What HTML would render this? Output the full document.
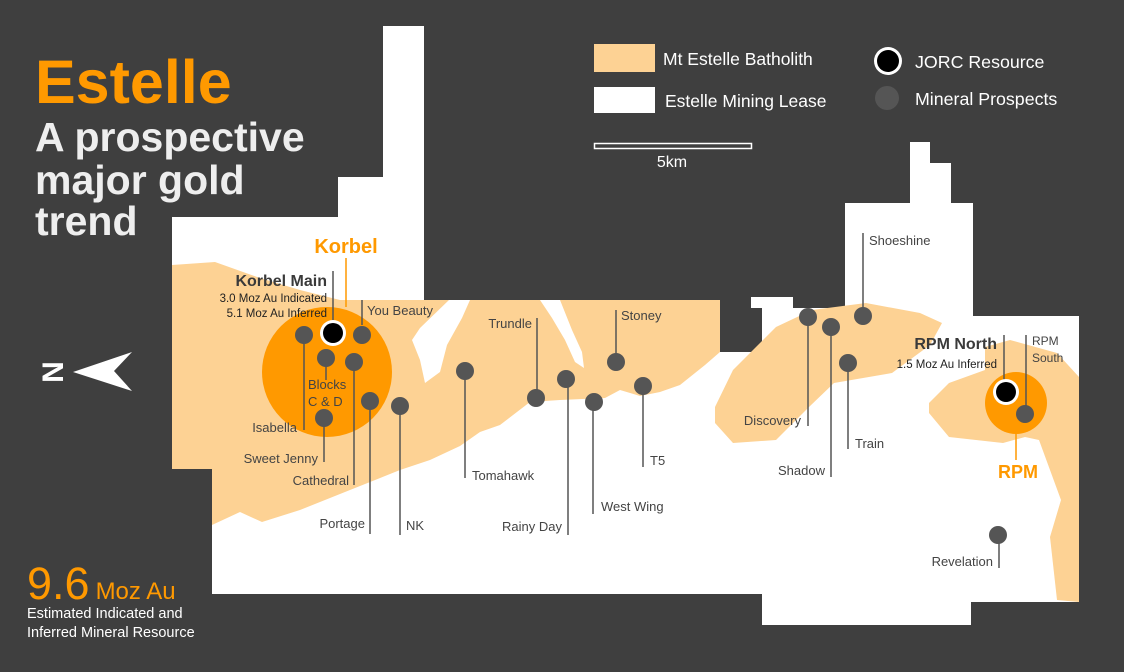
<!DOCTYPE html>
<html><head><meta charset="utf-8"><style>
html,body{margin:0;padding:0;background:#3f3f3f;}
svg{display:block;}
text{font-family:"Liberation Sans",Arial,sans-serif;}
</style></head><body>
<svg width="1124" height="672" viewBox="0 0 1124 672" xmlns="http://www.w3.org/2000/svg">
<rect width="1124" height="672" fill="#3f3f3f"/>
<path fill="#fff" d="M383,26 L424,26 L424,300 L720,300 L720,352 L762,352 L762,308 L751,308 L751,297 L793,297 L793,308 L845,308 L845,203 L910,203 L910,142 L930,142 L930,163 L951,163 L951,203 L973,203 L973,316 L1079,316 L1079,602 L971,602 L971,625 L762,625 L762,594 L212,594 L212,469 L172,469 L172,217 L338,217 L338,177 L383,177 Z"/>
<g fill="#fdd294">
<path d="M172,265 L215,262 L260,278 L300,290 L340,300 L720,300 L720,352 L705,365 L680,385 L660,392 L640,396 L620,390 L605,398 L560,400 L530,402 L500,425 L480,432 L460,446 L430,460 L400,470 L350,490 L300,510 L262,522 L240,512 L212,525 L212,469 L172,469 Z"/>
<path d="M715,407 L733,370 L776,327 L812,310 L866,303 L920,313 L942,323 L930,345 L892,373 L834,383 L809,407 L776,440 L733,443 L715,423 Z"/>
<path d="M929,403 L949,383 L985,370 L985,347 L1010,340 L1057,353 L1079,377 L1079,602 L1057,600 L1050,537 L1061,500 L1039,440 L1025,437 L1003,443 L949,437 L929,413 Z"/>
</g>
<g fill="#fff">
<path d="M449,300 L420,328 L412,340 L420,360 L425,383 L440,372 L447,345 L462,318 L470,300 Z"/>
<path d="M540,300 L552,318 L565,340 L575,362 L584,368 L582,352 L572,330 L560,300 Z"/>
</g>
<circle cx="327" cy="372" r="65" fill="#ff9900"/>
<circle cx="1016" cy="403" r="31" fill="#ff9900"/>
<g stroke="#555" stroke-width="1.5" fill="none">
<path d="M333,271V323 M362,300V325 M304,335V430 M326,358V380 M354,362V485 M324,418V462 M370,401V534 M400,406V535 M465,371V478 M537,318V398 M568,379V535 M593,402V514 M616,310V362 M643,386V467 M808,317V426 M831,327V477 M863,233V316 M848,363V449 M1004,335V392 M1026,335V414 M999,535V568"/>
</g>
<g stroke="#ff9900" stroke-width="1.5"><path d="M346,258V307 M1016,433V460"/></g>
<g fill="#555">
<circle cx="304" cy="335" r="9"/><circle cx="362" cy="335" r="9"/><circle cx="326" cy="358" r="9"/><circle cx="354" cy="362" r="9"/>
<circle cx="370" cy="401" r="9"/><circle cx="400" cy="406" r="9"/><circle cx="324" cy="418" r="9"/><circle cx="465" cy="371" r="9"/>
<circle cx="536" cy="398" r="9"/><circle cx="566" cy="379" r="9"/><circle cx="594" cy="402" r="9"/><circle cx="616" cy="362" r="9"/>
<circle cx="643" cy="386" r="9"/><circle cx="808" cy="317" r="9"/><circle cx="831" cy="327" r="9"/><circle cx="863" cy="316" r="9"/>
<circle cx="848" cy="363" r="9"/><circle cx="1025" cy="414" r="9"/><circle cx="998" cy="535" r="9"/>
</g>
<circle cx="333" cy="333" r="13" fill="#fff"/><circle cx="333" cy="333" r="10" fill="#000"/>
<circle cx="1006" cy="392" r="13" fill="#fff"/><circle cx="1006" cy="392" r="10" fill="#000"/>
<g fill="#444" font-size="13">
<text x="367" y="315">You Beauty</text>
<text x="297" y="432" text-anchor="end">Isabella</text>
<text x="308" y="389">Blocks</text>
<text x="308" y="406">C &amp; D</text>
<text x="318" y="463" text-anchor="end">Sweet Jenny</text>
<text x="349" y="485" text-anchor="end">Cathedral</text>
<text x="365" y="528" text-anchor="end">Portage</text>
<text x="406" y="530">NK</text>
<text x="472" y="480">Tomahawk</text>
<text x="532" y="328" text-anchor="end">Trundle</text>
<text x="562" y="531" text-anchor="end">Rainy Day</text>
<text x="601" y="511">West Wing</text>
<text x="621" y="320">Stoney</text>
<text x="650" y="465">T5</text>
<text x="801" y="425" text-anchor="end">Discovery</text>
<text x="825" y="475" text-anchor="end">Shadow</text>
<text x="855" y="448">Train</text>
<text x="869" y="245">Shoeshine</text>
<text x="993" y="566" text-anchor="end">Revelation</text>
<text x="1032" y="345" font-size="12">RPM</text>
<text x="1032" y="362" font-size="12">South</text>
</g>
<g fill="#3a3a3a">
<text x="327" y="286" text-anchor="end" font-size="16" font-weight="bold">Korbel Main</text>
<text x="327" y="302" text-anchor="end" font-size="11.5" fill="#222">3.0 Moz Au Indicated</text>
<text x="327" y="317" text-anchor="end" font-size="11.5" fill="#222">5.1 Moz Au Inferred</text>
<text x="997" y="349" text-anchor="end" font-size="16" font-weight="bold">RPM North</text>
<text x="997" y="368" text-anchor="end" font-size="11.5" fill="#222">1.5 Moz Au Inferred</text>
</g>
<text x="346" y="253" text-anchor="middle" font-size="20" font-weight="bold" fill="#ff9900">Korbel</text>
<text x="1018" y="478" text-anchor="middle" font-size="18" font-weight="bold" fill="#ff9900">RPM</text>
<text x="35" y="103" font-size="61" font-weight="bold" fill="#ff9900">Estelle</text>
<g fill="#eee" font-size="41" font-weight="bold">
<text x="35" y="151">A prospective</text>
<text x="35" y="194">major gold</text>
<text x="35" y="235">trend</text>
</g>
<text x="27" y="599" fill="#ff9900"><tspan font-size="45">9.6</tspan><tspan font-size="24" dx="6">Moz Au</tspan></text>
<text x="27" y="618" fill="#fff" font-size="14.5">Estimated Indicated and</text>
<text x="27" y="637" fill="#fff" font-size="14.5">Inferred Mineral Resource</text>
<text transform="translate(63,372) rotate(-90)" text-anchor="middle" font-size="30" font-weight="bold" fill="#fff">N</text>
<path d="M73,372 L132,352 L114,371 L132,391 Z" fill="#fff"/>
<rect x="594" y="44" width="61" height="28" fill="#fdd294"/>
<text x="663" y="65" fill="#fff" font-size="17.5">Mt Estelle Batholith</text>
<rect x="594" y="87" width="61" height="26" fill="#fff"/>
<text x="665" y="107" fill="#fff" font-size="17.5">Estelle Mining Lease</text>
<rect x="594.5" y="143.5" width="157" height="5" fill="none" stroke="#fff" stroke-width="1.5"/>
<text x="672" y="167" text-anchor="middle" fill="#fff" font-size="16">5km</text>
<circle cx="888" cy="61" r="14" fill="#fff"/><circle cx="888" cy="61" r="11" fill="#000"/>
<text x="915" y="68" fill="#fff" font-size="17.8">JORC Resource</text>
<circle cx="887" cy="98" r="12" fill="#555"/>
<text x="915" y="105" fill="#fff" font-size="17.8">Mineral Prospects</text>
</svg>
</body></html>
